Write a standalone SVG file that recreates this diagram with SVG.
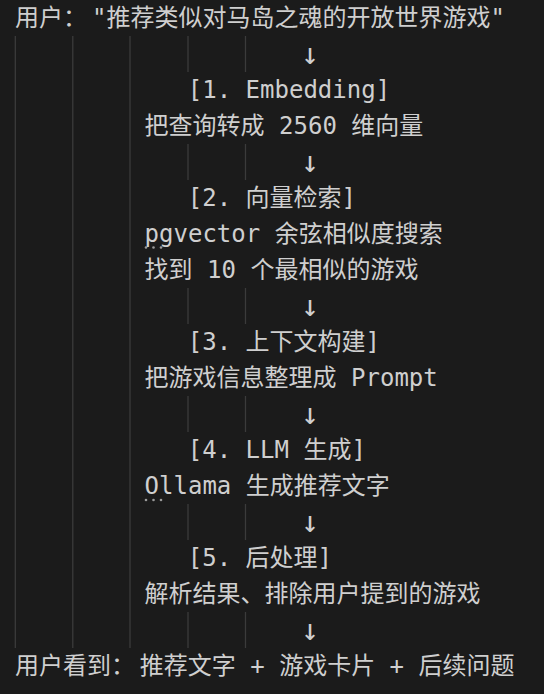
<svg xmlns="http://www.w3.org/2000/svg" width="544" height="694" viewBox="0 0 544 694">
<style>
  text { font-family: "DejaVu Sans Mono", "Noto Sans CJK SC", monospace; font-size: 24px; fill: #cfcfcf; white-space: pre; }
  .arrow { font-size: 30px; text-anchor: middle; }
  .guide { stroke: #3b3b3b; stroke-width: 1.3; }
  .hint { fill: #9a9a9a; }
</style>
<rect width="544" height="694" fill="#1b1b1b"/>
<g id="guides">
  <line class="guide" x1="15.3" y1="36" x2="15.3" y2="648"/>
  <line class="guide" x1="72.8" y1="36" x2="72.8" y2="648"/>
  <line class="guide" x1="130" y1="36" x2="130" y2="648"/>
  <path class="guide" d="M188 36V72M245.5 36V72M188 144V180M245.5 144V180M188 288V324M245.5 288V324M188 396V432M245.5 396V432M188 504V540M245.5 504V540M188 612V648M245.5 612V648"/>
</g>
<g id="connectors">
  <text class="arrow" x="310" y="64">↓</text>
  <text class="arrow" x="310" y="172">↓</text>
  <text class="arrow" x="310" y="316">↓</text>
  <text class="arrow" x="310" y="424">↓</text>
  <text class="arrow" x="310" y="532">↓</text>
  <text class="arrow" x="310" y="640">↓</text>
</g>
<g id="user-query">
  <text y="26"><tspan x="15">用户：</tspan><tspan x="92">"推荐类似对马岛之魂的开放世界游戏"</tspan></text>
</g>
<g id="step1">
  <text x="187.8" y="98">[1. Embedding]</text>
  <text x="144.6" y="134">把查询转成 2560 维向量</text>
</g>
<g id="step2">
  <text x="187.8" y="206">[2. 向量检索]</text>
  <text x="144.6" y="242">pgvector 余弦相似度搜索</text>
  <circle class="hint" cx="146" cy="247.5" r="1.3"/>
  <circle class="hint" cx="153.5" cy="247.5" r="1.3"/>
  <circle class="hint" cx="161" cy="247.5" r="1.3"/>
  <text x="144.6" y="278">找到 10 个最相似的游戏</text>
</g>
<g id="step3">
  <text x="187.8" y="350">[3. 上下文构建]</text>
  <text x="144.6" y="386">把游戏信息整理成 Prompt</text>
</g>
<g id="step4">
  <text x="187.8" y="458">[4. LLM 生成]</text>
  <text x="144.6" y="494">Ollama 生成推荐文字</text>
  <circle class="hint" cx="146" cy="500" r="1.3"/>
  <circle class="hint" cx="153.5" cy="500" r="1.3"/>
  <circle class="hint" cx="161" cy="500" r="1.3"/>
</g>
<g id="step5">
  <text x="187.8" y="566">[5. 后处理]</text>
  <text x="144.6" y="602">解析结果、排除用户提到的游戏</text>
</g>
<g id="user-result">
  <text y="674"><tspan x="15">用户看到：</tspan><tspan x="139.8">推荐文字 + 游戏卡片 + 后续问题</tspan></text>
</g>
</svg>
